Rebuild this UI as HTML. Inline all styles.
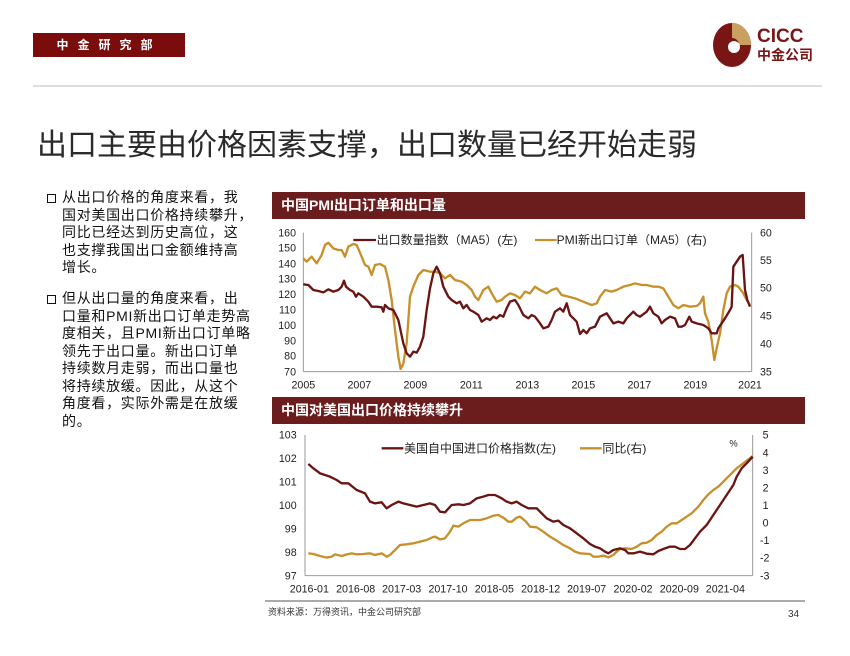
<!DOCTYPE html>
<html><head><meta charset="utf-8"><style>
body{margin:0;width:850px;height:656px;background:#fff;position:relative;overflow:hidden;font-family:"Liberation Sans","Noto Sans CJK SC",sans-serif;}
.abs{position:absolute}
.para{position:absolute;left:62px;font-size:14px;letter-spacing:0.7px;line-height:17.5px;color:#111;white-space:nowrap}
.bul{position:absolute;width:7px;height:7px;border:1.5px solid #111;left:-15px;top:5px}
.bar{position:absolute;left:272px;width:533px;height:27px;background:#6b1d1d;color:#fff;font-weight:bold;font-size:14px;line-height:27px;padding-left:9px;box-sizing:border-box}
</style></head><body>
<div class="abs" style="left:33px;top:33px;width:152px;height:24px;background:#7a0c0c;color:#fff;font-size:12px;font-weight:bold;line-height:24px;text-align:center;letter-spacing:9px">中金研究部</div>
<svg class="abs" style="left:705px;top:20px" width="120" height="52">
<ellipse cx="27" cy="25" rx="19" ry="22" fill="#7a1515"/>
<path d="M27 3 A19 22 0 0 1 46 25 L34 25 A7 7 0 0 0 27 18Z" fill="#c9a060"/>
<circle cx="29" cy="27" r="6" fill="#fff"/>
<text x="52" y="22" font-size="19" font-weight="bold" fill="#7a1515" font-family="Liberation Sans">CICC</text>
<text x="52" y="40" font-size="14" font-weight="bold" fill="#7a1515" font-family="Noto Sans CJK SC">中金公司</text>
</svg>
<div class="abs" style="left:33px;top:85px;width:789px;height:2px;background:#ddd"></div>
<div class="abs" style="left:37px;top:120px;font-size:30px;color:#2a2a2a;white-space:nowrap">出口主要由价格因素支撑，出口数量已经开始走弱</div>
<div class="para" style="top:189px"><span class="bul"></span>从出口价格的角度来看，我<br>国对美国出口价格持续攀升，<br>同比已经达到历史高位，这<br>也支撑我国出口金额维持高<br>增长。</div>
<div class="para" style="top:290px"><span class="bul"></span>但从出口量的角度来看，出<br>口量和PMI新出口订单走势高<br>度相关，且PMI新出口订单略<br>领先于出口量。新出口订单<br>持续数月走弱，而出口量也<br>将持续放缓。因此，从这个<br>角度看，实际外需是在放缓<br>的。</div>

<div class="bar" style="top:192px">中国PMI出口订单和出口量</div>
<svg class="abs" style="left:270px;top:190px" width="540" height="210" viewBox="0 0 1620 630" font-family="Liberation Sans,Noto Sans CJK SC,sans-serif" font-size="32" fill="#222">
<line x1="100" y1="128" x2="100" y2="545" stroke="#999" stroke-width="3"/>
<line x1="1445" y1="128" x2="1445" y2="545" stroke="#999" stroke-width="3"/>
<line x1="100" y1="545" x2="1445" y2="545" stroke="#999" stroke-width="3"/>
<g text-anchor="end"><text x="78" y="139">160</text><text x="78" y="185">150</text><text x="78" y="232">140</text><text x="78" y="278">130</text><text x="78" y="324">120</text><text x="78" y="370">110</text><text x="78" y="417">100</text><text x="78" y="463">90</text><text x="78" y="509">80</text><text x="78" y="556">70</text></g>
<g><text x="1470" y="139">60</text><text x="1470" y="222">55</text><text x="1470" y="305">50</text><text x="1470" y="389">45</text><text x="1470" y="472">40</text><text x="1470" y="556">35</text></g>
<g text-anchor="middle"><text x="100" y="595">2005</text><text x="268" y="595">2007</text><text x="436" y="595">2009</text><text x="604" y="595">2011</text><text x="772" y="595">2013</text><text x="940" y="595">2015</text><text x="1108" y="595">2017</text><text x="1276" y="595">2019</text><text x="1440" y="595">2021</text></g>
<g font-size="36"><line x1="250" y1="150" x2="318" y2="150" stroke="#6b1414" stroke-width="7"/><text x="320" y="162">出口数量指数（MA5）(左)</text>
<line x1="795" y1="150" x2="860" y2="150" stroke="#c8902a" stroke-width="7"/><text x="860" y="162">PMI新出口订单（MA5）(右)</text></g>
<polyline fill="none" stroke="#c8902a" stroke-width="7" stroke-linejoin="round" points="100,205 110,215 125,200 140,220 155,195 165,165 175,158 190,175 205,180 215,180 225,200 235,170 250,162 260,165 275,200 285,225 295,230 305,255 315,225 330,222 345,230 355,270 365,330 375,420 385,500 392,537 400,520 410,460 420,320 430,290 445,255 460,240 480,245 495,245 510,250 525,265 540,255 555,270 575,275 590,285 605,300 615,320 625,330 640,300 655,290 665,310 680,335 695,330 705,320 720,310 735,315 750,325 765,305 780,310 795,290 810,300 830,310 845,300 860,295 875,315 895,320 915,325 940,335 965,345 980,340 990,320 1005,300 1025,305 1040,300 1060,290 1080,285 1095,280 1115,285 1130,285 1150,290 1165,290 1180,295 1195,320 1210,345 1225,355 1240,345 1260,350 1280,348 1290,340 1300,320 1305,370 1315,395 1325,450 1333,510 1340,475 1350,430 1360,360 1370,310 1380,290 1395,285 1405,290 1420,310 1430,330 1440,345"/>
<polyline fill="none" stroke="#6b1414" stroke-width="7" stroke-linejoin="round" points="100,283 115,285 130,300 145,303 160,307 175,298 190,305 205,300 215,290 222,272 228,290 240,300 250,305 258,320 265,310 280,320 295,335 305,350 320,350 335,352 340,365 345,345 355,355 370,360 385,390 400,460 410,490 420,500 430,485 440,488 450,470 460,440 470,360 480,295 490,250 500,230 510,250 520,290 535,320 545,330 560,340 570,335 580,355 590,345 600,360 610,365 625,375 635,395 650,385 660,390 670,380 680,385 690,375 700,380 710,355 720,335 735,330 745,345 760,375 775,385 785,375 795,380 810,400 820,415 835,410 845,390 855,365 870,355 880,365 890,340 900,375 910,385 920,395 930,432 940,420 950,430 960,415 975,410 990,380 1010,370 1020,385 1030,400 1045,395 1060,400 1070,385 1090,365 1100,375 1110,380 1130,365 1140,350 1150,370 1165,380 1175,400 1185,390 1200,380 1215,385 1225,410 1235,410 1245,405 1258,380 1265,395 1280,400 1300,405 1315,415 1325,430 1340,430 1345,415 1355,400 1365,385 1380,360 1385,350 1390,230 1400,215 1410,200 1418,195 1425,300 1432,330 1440,350"/>
</svg>

<div class="bar" style="top:397px">中国对美国出口价格持续攀升</div>
<svg class="abs" style="left:270px;top:395px" width="540" height="230" viewBox="0 0 1620 690" font-family="Liberation Sans,Noto Sans CJK SC,sans-serif" font-size="32" fill="#222">
<line x1="105" y1="120" x2="105" y2="542" stroke="#999" stroke-width="3"/>
<line x1="1448" y1="120" x2="1448" y2="542" stroke="#999" stroke-width="3"/>
<line x1="105" y1="542" x2="1448" y2="542" stroke="#999" stroke-width="3"/>
<g text-anchor="end"><text x="80" y="131">103</text><text x="80" y="201">102</text><text x="80" y="272">101</text><text x="80" y="342">100</text><text x="80" y="412">99</text><text x="80" y="483">98</text><text x="80" y="553">97</text></g>
<g><text x="1478" y="131">5</text><text x="1478" y="184">4</text><text x="1478" y="237">3</text><text x="1478" y="289">2</text><text x="1478" y="342">1</text><text x="1478" y="395">0</text><text x="1470" y="447">-1</text><text x="1470" y="500">-2</text><text x="1470" y="553">-3</text></g>
<text x="1378" y="155" font-size="28">%</text>
<g text-anchor="middle"><text x="118" y="592">2016-01</text><text x="257" y="592">2016-08</text><text x="395" y="592">2017-03</text><text x="534" y="592">2017-10</text><text x="673" y="592">2018-05</text><text x="812" y="592">2018-12</text><text x="950" y="592">2019-07</text><text x="1089" y="592">2020-02</text><text x="1228" y="592">2020-09</text><text x="1366" y="592">2021-04</text></g>
<g font-size="36"><line x1="335" y1="160" x2="400" y2="160" stroke="#6b1414" stroke-width="7"/><text x="402" y="172">美国自中国进口价格指数(左)</text>
<line x1="930" y1="160" x2="995" y2="160" stroke="#c8902a" stroke-width="7"/><text x="997" y="172">同比(右)</text></g>
<polyline fill="none" stroke="#c8902a" stroke-width="7" stroke-linejoin="round" points="115,475 130,477 150,483 170,488 185,485 195,478 215,483 230,478 245,475 260,478 280,477 300,475 315,480 335,475 350,485 360,480 375,465 390,450 410,448 430,445 450,440 470,435 485,428 495,425 510,433 525,430 540,410 550,392 565,395 580,385 600,375 630,375 650,370 670,362 685,360 700,368 715,380 725,380 740,368 750,365 765,377 780,395 800,397 820,410 840,425 860,437 880,450 900,460 915,470 930,475 960,477 970,485 985,485 1000,482 1015,487 1030,480 1040,470 1050,462 1065,460 1085,462 1100,455 1115,445 1130,443 1145,435 1160,420 1175,410 1190,395 1205,385 1220,385 1235,375 1250,365 1265,355 1285,335 1300,315 1315,298 1330,285 1345,275 1365,255 1385,235 1400,220 1420,205 1448,183"/>
<polyline fill="none" stroke="#6b1414" stroke-width="7" stroke-linejoin="round" points="115,207 130,220 150,235 180,245 200,255 215,265 235,265 260,285 285,295 300,320 315,325 335,322 350,340 365,330 385,320 400,325 420,330 440,335 460,330 480,325 495,330 510,350 525,352 545,330 565,328 580,330 600,325 620,310 640,305 655,300 675,300 695,310 710,320 725,325 740,320 755,330 775,340 800,340 815,355 830,370 850,380 865,377 880,390 900,400 920,415 940,430 960,447 975,455 990,460 1005,470 1015,475 1030,465 1050,460 1065,465 1075,475 1090,475 1110,470 1130,476 1150,478 1165,468 1185,460 1200,455 1215,455 1230,462 1245,462 1260,450 1275,430 1290,410 1310,390 1330,360 1350,330 1370,300 1390,270 1400,245 1415,220 1430,205 1448,185"/>
</svg>
<div class="abs" style="left:265px;top:600px;width:540px;height:2px;background:#aaa"></div>
<div class="abs" style="left:268px;top:605px;font-size:9px;color:#333">资料来源：万得资讯，中金公司研究部</div>
<div class="abs" style="left:788px;top:609px;font-size:10px;color:#333">34</div>
</body></html>
